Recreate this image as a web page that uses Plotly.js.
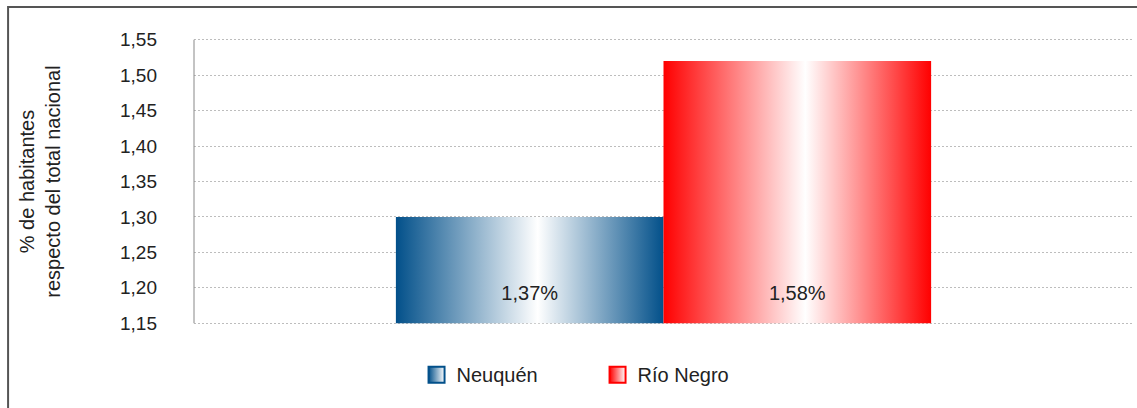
<!DOCTYPE html>
<html>
<head>
<meta charset="utf-8">
<script src="https://cdn.plot.ly/plotly-3.0.1.min.js"></script>
<style>html,body{margin:0;padding:0;background:#fff;}#chart{width:1137px;height:408px;}</style>
</head>
<body>
<div id="chart"></div>
<script>
var categories = ['Neuquén', 'Río Negro'];
var barValues = [1.30, 1.52];
var barLabels = ['1,37%', '1,58%'];
var edgeColors = ['#02508a', '#ff0000'];
var yTickValues = [1.15, 1.20, 1.25, 1.30, 1.35, 1.40, 1.45, 1.50, 1.55];

var FONT = 'Liberation Sans, Arial, sans-serif';
var yBase = 1.15;
var labelY = 1.19;
var barWidth = 0.57;
var n = categories.length;
var traces = [];
for (var i = 0; i < n; i++) {
  var x0 = (i - n / 2) * barWidth;
  var x1 = x0 + barWidth;
  traces.push({
    type: 'scatter',
    mode: 'lines',
    name: categories[i],
    legendgroup: categories[i],
    showlegend: false,
    x: [x0, x1, x1, x0, x0],
    y: [yBase, yBase, barValues[i], barValues[i], yBase],
    fill: 'toself',
    line: {width: 0, color: edgeColors[i]},
    fillgradient: {
      type: 'horizontal',
      colorscale: [[0, edgeColors[i]], [0.53, '#ffffff'], [1, edgeColors[i]]]
    },
    hoverinfo: 'skip'
  });
  traces.push({
    type: 'scatter',
    mode: 'text',
    x: [(x0 + x1) / 2],
    y: [labelY],
    text: [barLabels[i]],
    textfont: {family: FONT, size: 20, color: '#222'},
    showlegend: false,
    hoverinfo: 'skip'
  });
}
for (var j = 0; j < n; j++) {
  traces.push({
    type: 'scatter',
    mode: 'markers',
    name: categories[j],
    legendgroup: categories[j],
    x: [null], y: [null],
    marker: {
      symbol: 'square', size: 20, color: edgeColors[j],
      line: {width: 2, color: edgeColors[j]},
      gradient: {type: 'horizontal', color: '#ffffff'}
    },
    hoverinfo: 'skip'
  });
}

var layout = {
  width: 1137,
  height: 408,
  margin: {l: 194, r: 4, t: 38, b: 83},
  paper_bgcolor: '#ffffff',
  plot_bgcolor: '#ffffff',
  separators: ',.',
  font: {family: FONT, size: 20, color: '#222'},
  showlegend: true,
  legend: {
    orientation: 'h',
    x: 0.237, xanchor: 'left',
    y: -0.105, yanchor: 'top',
    font: {family: FONT, size: 20, color: '#222'},
    traceorder: 'normal',
    entrywidth: 136,
    entrywidthmode: 'pixels'
  },
  xaxis: {
    range: [-1, 1],
    showgrid: false,
    zeroline: false,
    showticklabels: false,
    showline: false,
    ticks: ''
  },
  yaxis: {
    range: [1.1475, 1.5525],
    tickvals: yTickValues,
    tickformat: '.2f',
    showgrid: true,
    gridcolor: '#bdbdbd',
    griddash: '2px,2px',
    gridwidth: 1,
    zeroline: false,
    showline: false,
    ticks: '',
    ticklabelstandoff: 36,
    tickfont: {family: FONT, size: 19, color: '#222'},
    title: {
      text: '% de habitantes<br>respecto del total nacional',
      font: {family: FONT, size: 20, color: '#222'},
      standoff: 54
    }
  },
  shapes: [{
    type: 'rect', xref: 'paper', yref: 'paper',
    x0: -0.198, x1: 1.2, y0: -0.6, y1: 1.108,
    line: {color: '#555', width: 2},
    fillcolor: 'rgba(0,0,0,0)',
    layer: 'below'
  }, {
    type: 'line', xref: 'x domain', yref: 'y',
    x0: 0, x1: 0, y0: yTickValues[0], y1: yTickValues[yTickValues.length - 1],
    line: {color: '#888', width: 1}
  }]
};

Plotly.newPlot('chart', traces, layout, {displayModeBar: false, staticPlot: true});
</script>
</body>
</html>
